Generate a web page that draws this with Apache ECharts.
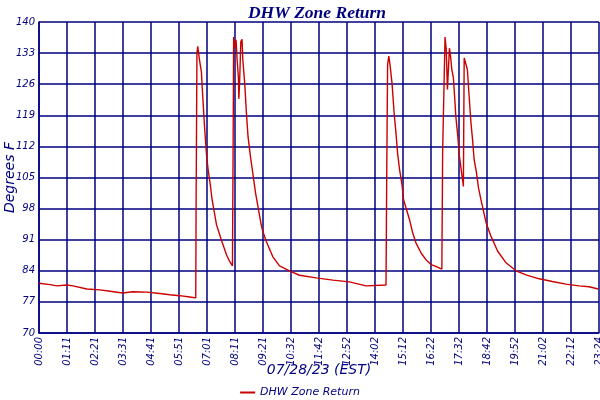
<!DOCTYPE html>
<html>
<head>
<meta charset="utf-8">
<script src="https://cdn.jsdelivr.net/npm/echarts@6/dist/echarts.min.js"></script>
<style>html,body{margin:0;padding:0;background:#fff}#c{width:600px;height:400px}</style>
</head>
<body>
<div id="c"></div>
<script>
const chartTitle = 'DHW Zone Return';
const seriesName = 'DHW Zone Return';
const xAxisName = '07/28/23 (EST)';
const yAxisName = 'Degrees F';
const tickLabels = ['00:00','01:11','02:21','03:31','04:41','05:51','07:01','08:11','09:21','10:32','11:42','12:52','14:02','15:12','16:22','17:32','18:42','19:52','21:02','22:12','23:24'];
// minutes since midnight
const minutes = [0,28,45,69,85,120,153,178,210,235,270,303,328,353,378,393,
  394,396,398,403,407,411,415,420,424,430,434,445,457,470,478,485,486,
  487,488,490,494,497,500,501,503,506,509,511,516,520,524,530,536,543,557,561,570,586,603,628,653,695,737,778,820,870,
  872,874,877,880,885,891,895,899,904,910,914,929,937,945,958,970,983,995,1010,
  1012,1018,1021,1024,1029,1031,1035,1039,1043,1045,1050,1054,1060,1063,1064,
  1066,1070,1074,1079,1083,1087,1091,1097,1102,1108,1121,1133,1150,1171,1196,1221,1254,1287,1321,1354,1379,1402];
const temps = [81.2,80.9,80.6,80.8,80.6,79.9,79.7,79.4,79.0,79.3,79.2,78.9,78.6,78.4,78.1,77.9,
  101,133,134.5,131.1,128.9,122.5,116.5,110.1,106.8,103.0,100.0,94.4,91.0,87.6,86.1,85.1,85.0,
  117.6,136.6,134.1,136.0,131.1,127.4,122.7,126.5,135.6,136.1,131.5,125.9,119.5,114.3,109.8,106.0,101.5,94.4,92.9,90.6,87.2,85.1,84.0,83.0,82.4,81.9,81.5,80.6,80.8,
  108.3,130.4,132.3,130.4,126.3,118.8,115.0,110.5,106.8,103.4,100.0,95.5,92.5,90.3,88.0,86.5,85.4,85.0,84.4,
  110.9,136.6,133.8,124.8,134.1,133.0,129.3,127.4,121.8,118.8,114.3,109.8,105.7,103.8,103.0,
  131.9,131.5,129.3,122.5,117.3,113.5,109.0,106.0,102.6,100.0,94.8,91.8,88.4,85.8,84.0,83.1,82.2,81.6,81.0,80.6,80.4,79.9];

const navy = '#000080';
const tickStep = 70.2;
const chart = echarts.init(document.getElementById('c'));
chart.setOption({
  animation: false,
  title: {
    text: chartTitle, left: 312, top: -1, textAlign: 'center',
    textStyle: {color: navy, fontFamily: 'Liberation Serif', fontStyle: 'italic', fontWeight: 'bold', fontSize: 17.5}
  },
  legend: {
    bottom: -3, left: 'center', icon: 'rect', itemWidth: 15, itemHeight: 2, itemGap: 4,
    textStyle: {color: navy, fontFamily: 'DejaVu Sans', fontStyle: 'italic', fontSize: 11}
  },
  grid: {left: 39, right: 1, top: 22, bottom: 67, outerBoundsMode: 'none', containLabel: false},
  xAxis: {
    type: 'value', min: 0, max: 1404, interval: tickStep,
    name: xAxisName, nameLocation: 'middle', nameGap: 30, nameMoveOverlap: false,
    nameTextStyle: {color: navy, fontFamily: 'DejaVu Sans', fontStyle: 'italic', fontSize: 14, verticalAlign: 'top'},
    axisLine: {lineStyle: {color: navy, width: 1.5}},
    axisTick: {show: false},
    axisLabel: {
      rotate: 90, margin: 4, color: navy, fontFamily: 'DejaVu Sans', fontStyle: 'italic', fontSize: 10,
      showMaxLabel: true, showMinLabel: true,
      formatter: v => tickLabels[Math.round(v / tickStep)] || ''
    },
    splitLine: {show: true, lineStyle: {color: navy, width: 1.5}}
  },
  yAxis: {
    type: 'value', min: 70, max: 140, interval: 7,
    name: yAxisName, nameLocation: 'middle', nameGap: 22, nameMoveOverlap: false,
    nameTextStyle: {color: navy, fontFamily: 'DejaVu Sans', fontStyle: 'italic', fontSize: 14},
    axisLine: {show: true, lineStyle: {color: navy, width: 1.5}},
    axisTick: {show: false},
    axisLabel: {margin: 4, color: navy, fontFamily: 'DejaVu Sans', fontStyle: 'italic', fontSize: 10},
    splitLine: {show: true, lineStyle: {color: navy, width: 1.5}}
  },
  series: [{
    name: seriesName, type: 'line', symbol: 'none',
    data: minutes.map((m, i) => [m, temps[i]]),
    lineStyle: {color: '#cc0000', width: 1.4},
    itemStyle: {color: '#cc0000'}
  }]
});
</script>
</body>
</html>
